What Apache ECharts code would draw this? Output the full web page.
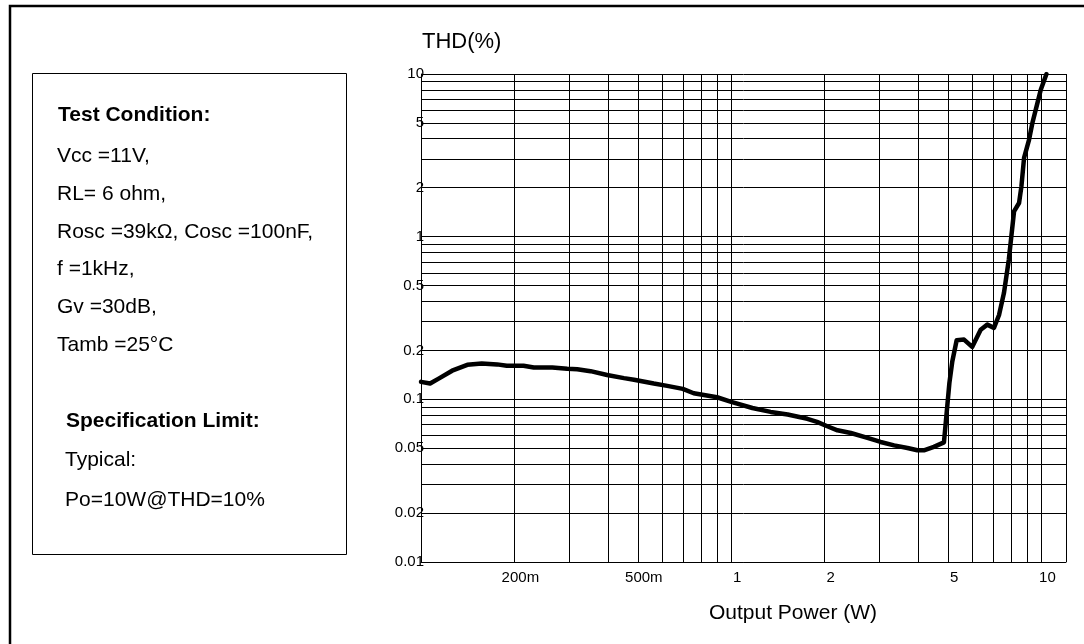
<!DOCTYPE html>
<html>
<head>
<meta charset="utf-8">
<script src="https://cdn.jsdelivr.net/npm/echarts@6/dist/echarts.min.js"></script>
<style>
html,body{margin:0;padding:0;background:#fff;}
#chart{width:1084px;height:644px;}
</style>
</head>
<body>
<div id="chart"></div>
<script>
// Output power (W)
const power = [0.100,0.107,0.114,0.126,0.141,0.157,0.176,0.189,0.214,0.231,0.265,0.296,0.319,0.352,0.398,0.451,0.486,0.563,0.622,0.698,0.757,0.90,1.00,1.17,1.34,1.52,1.76,1.89,2.04,2.20,2.43,2.75,3.03,3.35,3.70,3.98,4.18,4.50,4.85,5.05,5.16,5.33,5.63,5.98,6.37,6.69,7.03,7.30,7.57,7.85,8.16,8.47,8.62,8.79,9.12,9.35,9.71,9.95,10.38];
// THD (%)
const thd = [0.128,0.125,0.134,0.150,0.163,0.166,0.164,0.161,0.161,0.157,0.157,0.154,0.153,0.149,0.141,0.135,0.132,0.125,0.121,0.116,0.109,0.103,0.0964,0.0885,0.0837,0.0806,0.0759,0.0727,0.0683,0.0645,0.0621,0.0579,0.0547,0.0521,0.0502,0.0486,0.0486,0.0510,0.0544,0.126,0.171,0.231,0.233,0.210,0.268,0.288,0.275,0.330,0.45,0.723,1.43,1.61,2.04,3.05,3.94,5.0,6.64,8.0,10.0];

const xGridValues = [0.1,0.2,0.3,0.4,0.5,0.6,0.7,0.8,0.9,1,2,3,4,5,6,7,8,9,10,12];
const xLabelValues = [0.2,0.5,1,2,5,10];
const yGridValues = [0.01,0.02,0.03,0.04,0.05,0.06,0.07,0.08,0.09,0.1,0.2,0.3,0.4,0.5,0.6,0.7,0.8,0.9,1,2,3,4,5,6,7,8,9,10];
const yLabelValues = [0.01,0.02,0.05,0.1,0.2,0.5,1,2,5,10];

const conditionLines = ['Vcc =11V,','RL= 6 ohm,','Rosc =39kΩ, Cosc =100nF,','f =1kHz,','Gv =30dB,','Tamb =25°C'];
const specLines = ['Typical:','Po=10W@THD=10%'];

const FONT = '"Liberation Sans", Arial, sans-serif';
const chart = echarts.init(document.getElementById('chart'), null, {renderer:'canvas'});

const fmtX = v => v < 1 ? Math.round(v*1000) + 'm' : String(Math.round(v));
const fmtY = v => String(parseFloat(Number(v).toPrecision(3)));

const graphics = [
  {type:'polyline', shape:{points:[[10,644],[10,6],[1084,6]]}, style:{stroke:'#000', lineWidth:2.5, fill:null}},
  {type:'rect', shape:{x:32.5,y:73.5,width:314,height:481}, style:{stroke:'#000', lineWidth:1, fill:null}},
  {type:'text', x:58, y:115, style:{text:'Test Condition:', font:'bold 21px '+FONT, fill:'#000', verticalAlign:'middle'}},
  {type:'text', x:66, y:421, style:{text:'Specification Limit:', font:'bold 21px '+FONT, fill:'#000', verticalAlign:'middle'}},
  {type:'text', x:422, y:42, style:{text:'THD(%)', font:'22px '+FONT, fill:'#000', verticalAlign:'middle'}},
  {type:'text', x:793, y:613, style:{text:'Output Power (W)', font:'21px '+FONT, fill:'#000', verticalAlign:'middle', align:'center'}}
];
conditionLines.forEach((t,i)=>{
  graphics.push({type:'text', x:57, y:156.5+i*37.7, style:{text:t, font:'21px '+FONT, fill:'#000', verticalAlign:'middle'}});
});
specLines.forEach((t,i)=>{
  graphics.push({type:'text', x:65, y:460+i*40, style:{text:t, font:'21px '+FONT, fill:'#000', verticalAlign:'middle'}});
});

chart.setOption({
  animation:false,
  backgroundColor:'#fff',
  grid:{left:421, top:74, width:645, height:488},
  xAxis:{
    type:'log', min:0.1, max:12,
    axisLine:{show:true, onZero:false, lineStyle:{color:'#000', width:1}},
    axisTick:{show:false, customValues:xGridValues},
    axisLabel:{customValues:xLabelValues, formatter:fmtX, color:'#000', fontSize:15, fontFamily:FONT, margin:8, padding:[0,0,0,12]},
    splitLine:{show:true, lineStyle:{color:'#000', width:1}},
    minorSplitLine:{show:false}
  },
  yAxis:{
    type:'log', min:0.01, max:10,
    axisLine:{show:true, onZero:false, lineStyle:{color:'#000', width:1}},
    axisTick:{show:false, customValues:yGridValues},
    axisLabel:{customValues:yLabelValues, formatter:fmtY, color:'#000', fontSize:15, fontFamily:FONT, margin:-3},
    splitLine:{show:true, lineStyle:{color:'#000', width:1}}
  },
  series:[{
    type:'line',
    data: power.map((p,i)=>[p, thd[i]]),
    showSymbol:false,
    smooth:false,
    lineStyle:{color:'#000', width:4.5, join:'round', cap:'round'},
    z:5
  }],
  graphic: graphics
});
</script>
</body>
</html>
